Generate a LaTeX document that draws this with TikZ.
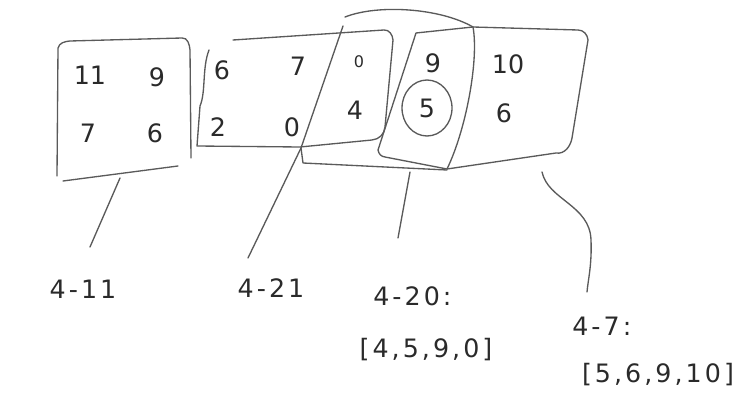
\documentclass[tikz,border=0pt]{standalone}
\usepackage{fontspec}
\setmainfont{DejaVu Sans}
\newfontfamily\handfont[LetterSpace=12]{DejaVu Sans}
\usepackage{xcolor}
\definecolor{pencilGray}{HTML}{5A5A5A}
\definecolor{inkText}{HTML}{2A2A2A}
\usepackage{tikz}
\usetikzlibrary{
    decorations.pathmorphing,
    calc
}
\tikzset{
    % Base style for pencil strokes
    pencil line/.style={
        draw=pencilGray,
        line width=1pt,
        line cap=round,
        line join=round,
    },
    % Digits written inside the groups
    digit/.style={
        font=\fontsize{19}{21}\selectfont,
        text=inkText,
        inner sep=0pt,
    },
    % Date labels under the groups
    group label/.style={
        font=\handfont\fontsize{19}{21}\selectfont,
        text=inkText,
        inner sep=0pt,
    },
}

\begin{document}
\begin{tikzpicture}[x=0.75pt, y=-0.75pt]
    \useasboundingbox (0,0) rectangle (752,417);

    % digits
    \node (n11) [digit] at (90,75) {11};
    \node (n9a) [digit] at (157,77) {9};
    \node (n7a) [digit] at (88,133) {7};
    \node (n6a) [digit] at (155,133) {6};
    \node (n6b) [digit] at (222,70) {6};
    \node (n7b) [digit] at (298,66) {7};
    \node (n2) [digit] at (218,127) {2};
    \node (n0a) [digit] at (292,127) {0};
    \node (n0b) [digit, font=\fontsize{12}{14}\selectfont] at (359,62) {0};
    \node (n4) [digit] at (355,110) {4};
    \node (n9b) [digit] at (433,63) {9};
    \node (n5) [digit] at (427,108) {5};
    \node (n10) [digit] at (508,64) {10};
    \node (n6c) [digit] at (504,113) {6};

    % group 4-11
    \draw [pencil line] (57,176) -- (58,48) to[out=75,in=185] (70,41) -- (182,38)
        to[out=5,in=95] (190,50) -- (191,158);
    \draw [pencil line] (63,181) -- (178,166);

    % group 4-21
    \draw [pencil line] (209,50) .. controls (202,68) and (206,92) .. (200,106)
        -- (197,146) -- (300,147) -- (372,140) to[out=5,in=-95] (385,127)
        -- (393,40) to[out=95,in=5] (384,30) -- (233,40);

    % group 4-20
    \draw [pencil line] (343,26) -- (301,148) -- (303,163) -- (447,170);
    \draw [pencil line] (345,17) .. controls (378,4) and (440,8) .. (473,27);
    \draw [pencil line] (473,27) .. controls (479,60) and (466,130) .. (447,169);
    \draw [pencil line] (n5) ellipse [x radius=25, y radius=28];

    % group 4-7
    \draw [pencil line] (416,33) -- (378,150) to[out=-80,in=175] (385,157) -- (447,169)
        -- (556,153) to[out=-10,in=-100] (572,138) -- (588,40) to[out=95,in=0] (578,30)
        -- (473,27) -- (416,33);

    % labels
    \node (l411) [group label] at (83,289) {4-11};
    \node (l421) [group label] at (271,288) {4-21};
    \node (l420) [group label, anchor=west] at (373,296) {4-20:};
    \node (s420) [group label] at (426,350) {[4,5,9,0]};
    \node (l47) [group label, anchor=west] at (572,326) {4-7:};
    \node (s47) [group label] at (658,375) {[5,6,9,10]};

    % connectors
    \coordinate (b411) at (120,178);
    \coordinate (e411) at (90,247);
    \coordinate (b421) at (301,148);
    \coordinate (e421) at (248,258);
    \coordinate (b420) at (410,172);
    \coordinate (e420) at (398,238);
    \coordinate (b47) at (542,172);
    \coordinate (e47) at (587,292);
    \draw [pencil line] (b411) -- (e411);
    \draw [pencil line] (b421) -- (e421);
    \draw [pencil line] (b420) -- (e420);
    \draw [pencil line] (b47) .. controls (548,200) and (590,205) .. (591,240)
        .. controls (592,265) and (588,280) .. (e47);
\end{tikzpicture}
\end{document}
